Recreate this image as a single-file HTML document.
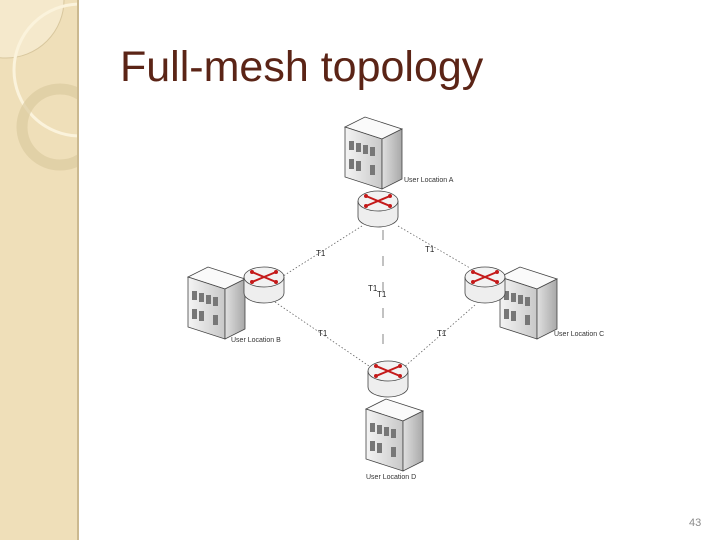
<!DOCTYPE html>
<html><head><style>
body{margin:0;width:720px;height:540px;overflow:hidden;background:#fff;position:relative;font-family:"Liberation Sans",Arial,sans-serif}
.bar{position:absolute;left:0;top:0;width:77px;height:540px;background:#efdfb9;border-right:2px solid #cbb990}
.t{position:absolute;left:120px;top:43px;font-size:43px;color:#5b2416;white-space:nowrap}
.pn{position:absolute;left:689px;top:517px;font-size:11px;color:#8a8a8a}
</style></head><body>
<div class="bar">
<svg width="77" height="540" style="position:absolute;left:0;top:0">
<circle cx="6" cy="0" r="58" fill="#f5e9cc" stroke="#d8c79e" stroke-width="1"/>
<circle cx="80" cy="70" r="66" fill="none" stroke="#fbf3dc" stroke-width="3"/>
<circle cx="60" cy="127" r="38" fill="none" stroke="#dccb9f" stroke-width="11" opacity="0.7"/>
</svg></div>
<div class="t">Full-mesh topology</div>
<svg width="720" height="540" style="position:absolute;left:0;top:0" font-family="Liberation Sans, Arial, sans-serif">
<defs>
<linearGradient id="g1" x1="0" x2="1"><stop offset="0" stop-color="#f4f4f4"/><stop offset="1" stop-color="#c8c8c8"/></linearGradient>
<linearGradient id="g2" x1="0" x2="1"><stop offset="0" stop-color="#e0e0e0"/><stop offset="1" stop-color="#a8a8a8"/></linearGradient>
<g id="bld">
<polygon points="0,10 20,0 57,12 37,22" fill="#fafafa" stroke="#444" stroke-width="0.8"/>
<polygon points="0,10 37,22 37,72 0,60" fill="url(#g1)" stroke="#444" stroke-width="0.8"/>
<polygon points="37,22 57,12 57,62 37,72" fill="url(#g2)" stroke="#444" stroke-width="0.8"/>
<g fill="#777">
<rect x="4" y="24" width="5" height="9"/><rect x="11" y="26" width="5" height="9"/><rect x="18" y="28" width="5" height="9"/><rect x="25" y="30" width="5" height="9"/>
<rect x="4" y="42" width="5" height="10"/><rect x="11" y="44" width="5" height="10"/><rect x="25" y="48" width="5" height="10"/>
</g>
</g>
<g id="rt">
<path d="M-20,0 V16 A20,10 0 0 0 20,16 V0" fill="#eee" stroke="#444" stroke-width="0.8"/>
<ellipse cx="0" cy="0" rx="20" ry="10" fill="#f2f2f2" stroke="#444" stroke-width="0.8"/>
<g stroke="#c41a1a" stroke-width="2">
<line x1="-12" y1="5" x2="12" y2="-5"/><line x1="-12" y1="-5" x2="12" y2="5"/>
</g>
<g fill="#c41a1a"><circle cx="12" cy="-5" r="2"/><circle cx="-12" cy="5" r="2"/><circle cx="12" cy="5" r="2"/><circle cx="-12" cy="-5" r="2"/></g>
</g>
</defs>
<g stroke="#666" stroke-width="0.8" stroke-dasharray="1.5,2" fill="none">
<line x1="362" y1="226" x2="280" y2="278"/>
<line x1="398" y1="226" x2="470" y2="268"/>
<line x1="275" y1="302" x2="372" y2="368"/>
<line x1="475" y1="305" x2="403" y2="368"/>
<line x1="383" y1="230" x2="383" y2="358" stroke-dasharray="10,16"/>
</g>
<use href="#bld" x="345" y="117"/>
<use href="#bld" x="188" y="267"/>
<use href="#bld" x="500" y="267"/>
<use href="#bld" x="366" y="399"/>
<use href="#rt" x="378" y="201"/>
<use href="#rt" x="264" y="277"/>
<use href="#rt" x="485" y="277"/>
<use href="#rt" x="388" y="371"/>
<g font-size="8" fill="#222">
<text x="316" y="256">T1</text><text x="425" y="252">T1</text>
<text x="368" y="291">T1</text><text x="377" y="297">T1</text>
<text x="318" y="336">T1</text><text x="437" y="336">T1</text>
</g>
<g font-size="7" fill="#333">
<text x="404" y="182">User Location A</text>
<text x="231" y="342">User Location B</text>
<text x="554" y="336">User Location C</text>
<text x="366" y="479">User Location D</text>
</g>
</svg>
<div class="pn">43</div>
</body></html>
